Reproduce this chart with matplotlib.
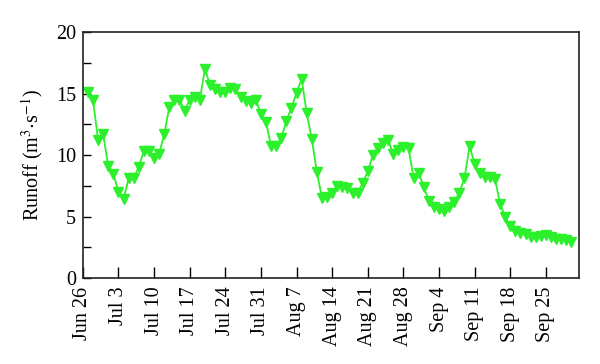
import numpy as np
import matplotlib
matplotlib.use('Agg')
import matplotlib.pyplot as plt
from matplotlib.ticker import MultipleLocator

# daily runoff, Jun 27 .. Sep 30 (day 1 = Jun 27, day 0 = Jun 26)
runoff = [
    15.1, 14.5, 11.2, 11.7, 9.1, 8.5, 7.0, 6.4, 8.1, 8.1,
    9.05, 10.35, 10.35, 9.8, 10.1, 11.7, 13.9, 14.5, 14.5, 13.6,
    14.5, 14.7, 14.5, 17.0, 15.7, 15.4, 15.15, 15.15, 15.45, 15.4,
    14.7, 14.4, 14.2, 14.5, 13.3, 12.7, 10.7, 10.75, 11.4, 12.75,
    13.85, 15.05, 16.2, 13.4, 11.3, 8.6, 6.5, 6.6, 6.95, 7.5,
    7.4, 7.3, 6.9, 6.95, 7.7, 8.7, 10.0, 10.6, 10.95, 11.2,
    10.1, 10.4, 10.65, 10.55, 8.15, 8.55, 7.4, 6.3, 5.8, 5.6,
    5.45, 5.8, 6.2, 6.95, 8.15, 10.7, 9.3, 8.55, 8.2, 8.25,
    8.05, 6.0, 5.0, 4.2, 3.85, 3.7, 3.55, 3.36, 3.3, 3.4,
    3.5, 3.3, 3.2, 3.15, 3.1, 2.95,
]
days = np.arange(1, len(runoff) + 1)

tick_labels = ['Jun 26', 'Jul 3', 'Jul 10', 'Jul 17', 'Jul 24', 'Jul 31',
               'Aug 7', 'Aug 14', 'Aug 21', 'Aug 28', 'Sep 4', 'Sep 11',
               'Sep 18', 'Sep 25']
tick_days = np.arange(len(tick_labels)) * 7

plt.rcParams.update({
    'font.family': 'serif',
    'font.serif': ['Liberation Serif', 'DejaVu Serif'],
    'mathtext.fontset': 'stix',
    'font.size': 14,
})

fig = plt.figure(figsize=(6.0, 3.64), dpi=100)
ax = fig.add_axes([0.138, 0.236, 0.827, 0.676])

green = '#2cf02c'
ax.plot(days, runoff, '-', color=green, linewidth=1.3,
        marker='v', markersize=6.5, markerfacecolor=green, markeredgecolor=green)

ax.set_xlim(0, 97.5)
ax.set_ylim(0, 20)
ax.set_xticks(tick_days)
ax.set_xticklabels(tick_labels, rotation=90)
ax.yaxis.set_major_locator(MultipleLocator(5))
ax.yaxis.set_minor_locator(MultipleLocator(2.5))

ax.tick_params(axis='x', direction='in', length=8, width=1.0, pad=6,
               labelsize=14.5, colors='black')
ax.tick_params(axis='y', which='both', direction='in', length=6, width=1.0,
               pad=5, labelsize=14.5)
for sp in ax.spines.values():
    sp.set_linewidth(1.2)
    sp.set_color('#222222')

ax.set_ylabel(r'Runoff (m$^{3}$$\cdot$s$^{-1}$)', fontsize=14.5, labelpad=8)

fig.savefig('out.png', dpi=100)
